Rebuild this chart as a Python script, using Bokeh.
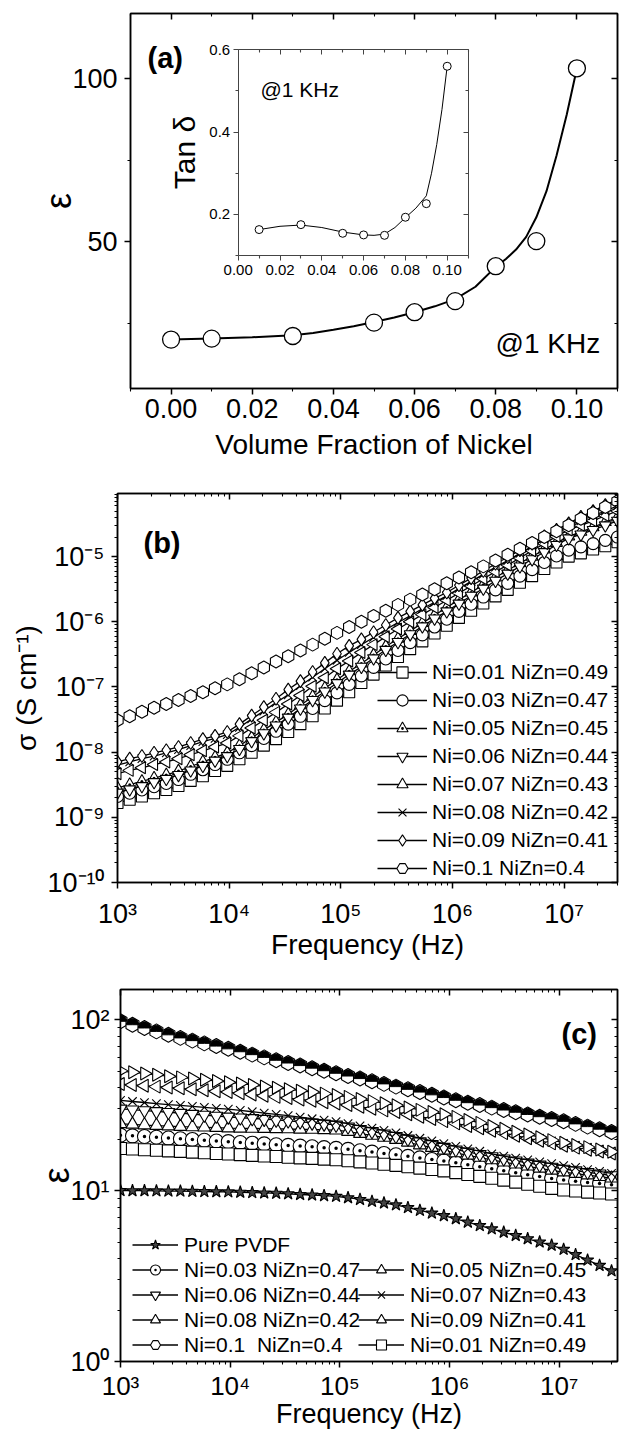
import numpy as np
from bokeh.plotting import figure
from bokeh.layouts import column
from bokeh.models import (Range1d, LinearAxis, FixedTicker, Label, Legend, LegendItem,
                          ColumnDataSource, PrintfTickFormatter, CustomJSTickFormatter)
from bokeh.embed import file_html
from bokeh.resources import INLINE

FONT = "Liberation Sans"

# ---------------- panel (a) data ----------------
vol_fraction = [0.00, 0.01, 0.03, 0.05, 0.06, 0.07, 0.08, 0.09, 0.10]
eps_1khz = [20.0, 20.3, 21.1, 25.2, 28.4, 31.8, 42.5, 50.2, 103.2]
# smooth guide curve
fit_fraction = [0.00, 0.01, 0.02, 0.03, 0.035, 0.04, 0.045, 0.05, 0.055, 0.06, 0.065, 0.07,
                0.075, 0.08, 0.0825, 0.085, 0.0875, 0.09, 0.0925, 0.095, 0.0975, 0.10]
fit_eps = [20.0, 20.3, 20.7, 21.3, 22.0, 23.0, 24.1, 25.4, 26.8, 28.4, 30.2, 32.4,
           36.2, 42.3, 44.7, 47.6, 51.5, 57.5, 65.5, 76.5, 89.0, 103.2]

inset_fraction = [0.01, 0.03, 0.05, 0.06, 0.07, 0.08, 0.09, 0.10]
tan_delta = [0.163, 0.175, 0.154, 0.150, 0.149, 0.193, 0.226, 0.560]
inset_fit_fraction = [0.01, 0.02, 0.03, 0.04, 0.05, 0.06, 0.065, 0.07, 0.075, 0.08, 0.085,
                      0.09, 0.0925, 0.095, 0.0975, 0.10]
inset_fit_tan = [0.163, 0.171, 0.174, 0.168, 0.157, 0.150, 0.149, 0.152, 0.168, 0.192, 0.215,
                 0.245, 0.300, 0.370, 0.455, 0.560]

a_x_ticks = [0.00, 0.02, 0.04, 0.06, 0.08, 0.10]
a_x_minor = [-0.01, 0.01, 0.03, 0.05, 0.07, 0.09, 0.11]
a_y_ticks = [50, 100]
a_y_minor = [25, 75]
inset_x_ticks = [0.00, 0.02, 0.04, 0.06, 0.08, 0.10]
inset_x_minor = [0.01, 0.03, 0.05, 0.07, 0.09, 0.11]
inset_y_ticks = [0.2, 0.4, 0.6]
inset_y_minor = [0.1, 0.3, 0.5]

# ---------------- shared frequency grid (Hz) ----------------
freq_hz = [1000, 1286, 1654, 2126, 2734, 3516, 4521, 5813, 7475, 9612,
           12360, 15890, 20430, 26270, 33780, 43440, 55860, 71830, 92360, 118760,
           152700, 196360, 252500, 324700, 417500, 536800, 690300, 887600, 1141300, 1467500,
           1887000, 2426000, 3120000, 4012000, 5159000, 6634000, 8530000, 10970000, 14100000, 18140000,
           23330000, 30000000]

# ---------------- panel (b): log10 of conductivity (S/cm) ----------------
log_sigma_ni001 = [-8.78, -8.73, -8.68, -8.63, -8.58, -8.52, -8.44, -8.37, -8.29, -8.21,
                   -8.11, -8.01, -7.90, -7.80, -7.69, -7.57, -7.45, -7.33, -7.21, -7.08,
                   -6.94, -6.81, -6.67, -6.54, -6.42, -6.30, -6.18, -6.06, -5.94, -5.83,
                   -5.72, -5.61, -5.51, -5.40, -5.30, -5.19, -5.09, -5.00, -4.95, -4.89,
                   -4.84, -4.78]
log_sigma_ni003 = [-8.68, -8.63, -8.58, -8.53, -8.48, -8.42, -8.34, -8.27, -8.19, -8.11,
                   -8.01, -7.90, -7.79, -7.68, -7.57, -7.45, -7.33, -7.21, -7.09, -6.96,
                   -6.83, -6.70, -6.57, -6.44, -6.32, -6.20, -6.08, -5.96, -5.84, -5.73,
                   -5.62, -5.51, -5.41, -5.30, -5.20, -5.09, -4.99, -4.90, -4.85, -4.80,
                   -4.75, -4.70]
log_sigma_ni005 = [-8.55, -8.50, -8.45, -8.40, -8.35, -8.29, -8.22, -8.15, -8.08, -8.01,
                   -7.90, -7.78, -7.66, -7.54, -7.42, -7.28, -7.15, -7.02, -6.89, -6.76,
                   -6.64, -6.51, -6.38, -6.26, -6.14, -6.02, -5.90, -5.78, -5.66, -5.55,
                   -5.43, -5.32, -5.21, -5.10, -5.00, -4.89, -4.79, -4.69, -4.62, -4.55,
                   -4.47, -4.40]
log_sigma_ni006 = [-8.62, -8.57, -8.52, -8.46, -8.41, -8.35, -8.28, -8.21, -8.13, -8.06,
                   -7.95, -7.83, -7.71, -7.59, -7.47, -7.33, -7.20, -7.07, -6.94, -6.81,
                   -6.69, -6.56, -6.43, -6.31, -6.19, -6.07, -5.95, -5.84, -5.72, -5.60,
                   -5.49, -5.37, -5.26, -5.15, -5.04, -4.93, -4.82, -4.72, -4.66, -4.59,
                   -4.52, -4.45]
log_sigma_ni007 = [-8.33, -8.28, -8.24, -8.19, -8.15, -8.10, -8.04, -7.98, -7.92, -7.86,
                   -7.75, -7.63, -7.51, -7.39, -7.26, -7.13, -6.99, -6.86, -6.72, -6.60,
                   -6.47, -6.35, -6.23, -6.11, -6.00, -5.89, -5.78, -5.67, -5.56, -5.45,
                   -5.34, -5.23, -5.13, -5.02, -4.91, -4.80, -4.69, -4.59, -4.52, -4.45,
                   -4.37, -4.30]
log_sigma_ni008 = [-8.20, -8.15, -8.10, -8.06, -8.01, -7.96, -7.90, -7.84, -7.79, -7.73,
                   -7.62, -7.49, -7.37, -7.24, -7.12, -6.98, -6.85, -6.72, -6.59, -6.47,
                   -6.35, -6.24, -6.12, -6.01, -5.91, -5.80, -5.70, -5.60, -5.49, -5.38,
                   -5.27, -5.16, -5.06, -4.95, -4.84, -4.73, -4.62, -4.52, -4.45, -4.37,
                   -4.30, -4.22]
log_sigma_ni009 = [-8.15, -8.10, -8.06, -8.01, -7.97, -7.92, -7.86, -7.80, -7.75, -7.69,
                   -7.57, -7.44, -7.31, -7.18, -7.04, -6.91, -6.77, -6.63, -6.49, -6.37,
                   -6.27, -6.16, -6.05, -5.94, -5.84, -5.74, -5.64, -5.55, -5.44, -5.33,
                   -5.22, -5.11, -5.01, -4.90, -4.80, -4.69, -4.59, -4.49, -4.39, -4.30,
                   -4.21, -4.12]
log_sigma_ni010 = [-7.51, -7.45, -7.38, -7.32, -7.26, -7.20, -7.14, -7.08, -7.02, -6.96,
                   -6.88, -6.79, -6.70, -6.61, -6.53, -6.44, -6.35, -6.26, -6.17, -6.08,
                   -6.00, -5.91, -5.83, -5.74, -5.66, -5.58, -5.50, -5.41, -5.32, -5.24,
                   -5.15, -5.06, -4.97, -4.88, -4.79, -4.70, -4.61, -4.52, -4.42, -4.33,
                   -4.24, -4.15]

b_labels = ["Ni=0.01 NiZn=0.49", "Ni=0.03 NiZn=0.47", "Ni=0.05 NiZn=0.45", "Ni=0.06 NiZn=0.44",
            "Ni=0.07 NiZn=0.43", "Ni=0.08 NiZn=0.42", "Ni=0.09 NiZn=0.41", "Ni=0.1 NiZn=0.4"]
b_x_ticks = [1e3, 1e4, 1e5, 1e6, 1e7]
b_x_tick_labels = ["10\u00b3", "10\u2074", "10\u2075", "10\u2076", "10\u2077"]
b_y_ticks = [1e-10, 1e-9, 1e-8, 1e-7, 1e-6, 1e-5]
b_y_tick_labels = ["10\u207b\u00b9\u2070", "10\u207b\u2079", "10\u207b\u2078", "10\u207b\u2077",
                   "10\u207b\u2076", "10\u207b\u2075"]

# ---------------- panel (c): log10 of permittivity ----------------
log_eps_pvdf = [1.000, 0.999, 0.999, 0.998, 0.997, 0.997, 0.995, 0.994, 0.993, 0.992,
                0.990, 0.988, 0.986, 0.984, 0.981, 0.977, 0.974, 0.970, 0.966, 0.958,
                0.948, 0.937, 0.927, 0.916, 0.900, 0.884, 0.868, 0.853, 0.835, 0.815,
                0.795, 0.776, 0.756, 0.737, 0.718, 0.699, 0.680, 0.656, 0.625, 0.593,
                0.562, 0.530]
log_eps_ni003 = [1.324, 1.320, 1.316, 1.312, 1.307, 1.303, 1.299, 1.294, 1.290, 1.286,
                 1.281, 1.277, 1.273, 1.268, 1.264, 1.260, 1.256, 1.251, 1.247, 1.241,
                 1.233, 1.225, 1.217, 1.209, 1.200, 1.191, 1.182, 1.173, 1.163, 1.151,
                 1.139, 1.127, 1.116, 1.104, 1.093, 1.082, 1.070, 1.061, 1.054, 1.047,
                 1.041, 1.034]
log_eps_ni005 = [1.390, 1.387, 1.383, 1.380, 1.377, 1.374, 1.372, 1.370, 1.368, 1.365,
                 1.364, 1.363, 1.362, 1.361, 1.360, 1.358, 1.357, 1.355, 1.353, 1.345,
                 1.333, 1.322, 1.310, 1.298, 1.282, 1.266, 1.251, 1.235, 1.220, 1.206,
                 1.193, 1.179, 1.166, 1.154, 1.142, 1.130, 1.118, 1.108, 1.099, 1.090,
                 1.081, 1.072]
log_eps_ni006 = [1.478, 1.473, 1.468, 1.463, 1.458, 1.453, 1.447, 1.442, 1.436, 1.431,
                 1.426, 1.422, 1.418, 1.413, 1.408, 1.402, 1.396, 1.390, 1.384, 1.373,
                 1.359, 1.346, 1.332, 1.318, 1.302, 1.286, 1.270, 1.254, 1.239, 1.226,
                 1.212, 1.199, 1.186, 1.174, 1.162, 1.150, 1.138, 1.126, 1.117, 1.107,
                 1.098, 1.088]
log_eps_ni007 = [1.527, 1.521, 1.515, 1.509, 1.503, 1.498, 1.492, 1.487, 1.481, 1.476,
                 1.469, 1.461, 1.453, 1.446, 1.438, 1.429, 1.420, 1.412, 1.403, 1.391,
                 1.378, 1.365, 1.352, 1.338, 1.322, 1.306, 1.290, 1.274, 1.258, 1.244,
                 1.230, 1.215, 1.201, 1.190, 1.179, 1.168, 1.157, 1.146, 1.135, 1.123,
                 1.112, 1.101]
log_eps_ni008 = [1.623, 1.618, 1.613, 1.608, 1.603, 1.598, 1.592, 1.587, 1.581, 1.576,
                 1.569, 1.562, 1.555, 1.548, 1.541, 1.533, 1.525, 1.517, 1.509, 1.500,
                 1.490, 1.479, 1.469, 1.459, 1.446, 1.432, 1.419, 1.406, 1.393, 1.378,
                 1.364, 1.350, 1.336, 1.321, 1.306, 1.291, 1.276, 1.262, 1.251, 1.239,
                 1.228, 1.217]
log_eps_ni009 = [1.700, 1.692, 1.685, 1.677, 1.669, 1.662, 1.655, 1.648, 1.641, 1.634,
                 1.626, 1.618, 1.609, 1.601, 1.593, 1.584, 1.576, 1.567, 1.559, 1.548,
                 1.535, 1.523, 1.511, 1.499, 1.486, 1.472, 1.459, 1.446, 1.431, 1.413,
                 1.396, 1.378, 1.361, 1.344, 1.328, 1.312, 1.295, 1.280, 1.267, 1.254,
                 1.240, 1.227]
log_eps_ni010 = [1.990, 1.970, 1.951, 1.931, 1.911, 1.893, 1.877, 1.861, 1.845, 1.829,
                 1.812, 1.795, 1.779, 1.762, 1.746, 1.731, 1.716, 1.701, 1.686, 1.670,
                 1.655, 1.639, 1.624, 1.608, 1.592, 1.576, 1.560, 1.544, 1.528, 1.514,
                 1.500, 1.485, 1.471, 1.458, 1.445, 1.432, 1.419, 1.405, 1.390, 1.374,
                 1.359, 1.343]
log_eps_ni001 = [1.246, 1.243, 1.239, 1.236, 1.232, 1.229, 1.225, 1.221, 1.217, 1.214,
                 1.210, 1.206, 1.202, 1.199, 1.195, 1.191, 1.188, 1.184, 1.180, 1.174,
                 1.168, 1.161, 1.154, 1.147, 1.139, 1.131, 1.123, 1.115, 1.105, 1.094,
                 1.083, 1.072, 1.061, 1.049, 1.037, 1.025, 1.013, 1.003, 0.997, 0.991,
                 0.986, 0.980]
c_y_ticks = [1, 10, 100]
c_y_tick_labels = ["10\u2070", "10\u00b9", "10\u00b2"]

# ---------------- helpers ----------------
W = 619


def style_axis(ax, size="27px", tick_out=6, minor_out=3, tick_in=0, minor_in=0,
               standoff=6, show=True, lw=1.5, color="black"):
    ax.axis_line_color = color
    ax.axis_line_width = lw
    ax.major_tick_line_color = color
    ax.major_tick_line_width = lw
    ax.minor_tick_line_color = color
    ax.minor_tick_line_width = 1.1
    ax.major_tick_out = tick_out
    ax.major_tick_in = tick_in
    ax.minor_tick_out = minor_out
    ax.minor_tick_in = minor_in
    ax.major_label_text_font = FONT
    if show:
        ax.major_label_text_color = "black"
        ax.major_label_standoff = standoff
        ax.major_label_text_font_size = size
    else:
        # mirror axis: ticks only, labels not drawn
        ax.major_label_text_color = None
        ax.major_label_standoff = 0
        ax.major_label_text_font_size = "1px"
    ax.axis_label_text_font = FONT
    ax.axis_label_text_font_style = "normal"
    ax.axis_label_text_color = "black"


def base_fig(h, ml, mr, mt, mb, **kw):
    p = figure(width=W, height=h, output_backend="svg", toolbar_location=None,
               min_border_left=ml, min_border_right=mr, min_border_top=mt,
               min_border_bottom=mb, **kw)
    p.frame_align = False
    p.grid.visible = False
    p.outline_line_color = "black"
    p.outline_line_width = 1.5
    p.background_fill_color = "white"
    p.border_fill_color = "white"
    return p


def log_minor(lo_exp, hi_exp):
    return [k * 10.0 ** e for e in range(lo_exp, hi_exp) for k in range(2, 10)]


def lookup_formatter(ticks, labels):
    return CustomJSTickFormatter(args=dict(tv=ticks, tl=labels), code="""
        for (let i = 0; i < tv.length; i++) {
            if (Math.abs(Math.log10(tick) - Math.log10(tv[i])) < 1e-6) { return tl[i]; }
        }
        return "";
    """)


def mirror(p, ticker, side):
    ax = LinearAxis(ticker=ticker)
    style_axis(ax, tick_out=0, minor_out=0, tick_in=6, minor_in=3, show=False)
    p.add_layout(ax, side)


# ================= panel (a) =================
HA = 470
FL, FR, FT, FB = 130, W - 2, 13, 388
pa = base_fig(HA, FL, W - FR, FT, HA - FB,
              x_range=Range1d(-0.01, 0.11), y_range=Range1d(5, 120))
xa = pa.below[0]
ya = pa.left[0]
xa.ticker = FixedTicker(ticks=a_x_ticks, minor_ticks=a_x_minor)
xa.formatter = PrintfTickFormatter(format="%.2f")
ya.ticker = FixedTicker(ticks=a_y_ticks, minor_ticks=a_y_minor)
style_axis(xa, standoff=4)
style_axis(ya, standoff=7)
xa.axis_label = "Volume Fraction of Nickel"
xa.axis_label_text_font_size = "28px"
xa.axis_label_standoff = 8
ya.axis_label = "\u03b5"
ya.axis_label_text_font_size = "36px"
ya.axis_label_standoff = -10
mirror(pa, FixedTicker(ticks=a_x_ticks, minor_ticks=a_x_minor), "above")
mirror(pa, FixedTicker(ticks=a_y_ticks, minor_ticks=a_y_minor), "right")

pa.line(fit_fraction, fit_eps, line_color="black", line_width=2)
pa.scatter(vol_fraction, eps_1khz, marker="circle", size=17, fill_color="white",
           line_color="black", line_width=1.3)

# inset placed inside the main frame via extra ranges
IL, IR, IT, IB = 237.7, 467.6, 49.3, 255.0
sx = 0.11 / (IR - IL)
sy = 0.5 / (IB - IT)
pa.extra_x_ranges = {"ix": Range1d(0.0 - (IL - FL) * sx, 0.11 + (FR - IR) * sx)}
pa.extra_y_ranges = {"iy": Range1d(0.1 - (FB - IB) * sy, 0.6 + (IT - FT) * sy)}

ib = LinearAxis(x_range_name="ix", y_range_name="iy", fixed_location=0.1, bounds=(0, 0.11),
                ticker=FixedTicker(ticks=inset_x_ticks, minor_ticks=inset_x_minor),
                formatter=PrintfTickFormatter(format="%.2f"))
style_axis(ib, size="15px", tick_out=5, minor_out=3, standoff=4, lw=1, color="#444")
pa.add_layout(ib, "below")
il = LinearAxis(x_range_name="ix", y_range_name="iy", fixed_location=0.0, bounds=(0.1, 0.6),
                ticker=FixedTicker(ticks=inset_y_ticks, minor_ticks=inset_y_minor),
                formatter=PrintfTickFormatter(format="%.1f"))
style_axis(il, size="15px", tick_out=5, minor_out=3, standoff=3, lw=1, color="#444")
il.axis_label = "Tan \u03b4"
il.axis_label_text_font_size = "30px"
il.axis_label_standoff = 6
pa.add_layout(il, "left")
it = LinearAxis(x_range_name="ix", y_range_name="iy", fixed_location=0.6, bounds=(0, 0.11),
                ticker=FixedTicker(ticks=inset_x_ticks, minor_ticks=inset_x_minor))
style_axis(it, tick_out=0, minor_out=0, tick_in=5, minor_in=3, show=False, lw=1, color="#444")
pa.add_layout(it, "above")
ir = LinearAxis(x_range_name="ix", y_range_name="iy", fixed_location=0.11, bounds=(0.1, 0.6),
                ticker=FixedTicker(ticks=inset_y_ticks, minor_ticks=inset_y_minor))
style_axis(ir, tick_out=0, minor_out=0, tick_in=5, minor_in=3, show=False, lw=1, color="#444")
pa.add_layout(ir, "right")

pa.line(inset_fit_fraction, inset_fit_tan, x_range_name="ix", y_range_name="iy",
        line_color="black", line_width=1)
pa.scatter(inset_fraction, tan_delta, x_range_name="ix", y_range_name="iy", marker="circle",
           size=8, fill_color="white", line_color="black", line_width=1)

pa.add_layout(Label(x=17, y=331, x_units="screen", y_units="screen", text="(a)",
                    text_font=FONT, text_font_size="29px", text_font_style="bold",
                    text_baseline="middle", text_color="black"))
pa.add_layout(Label(x=365, y=45, x_units="screen", y_units="screen", text="@1 KHz",
                    text_font=FONT, text_font_size="28px", text_baseline="middle",
                    text_color="black"))
pa.add_layout(Label(x=130, y=299, x_units="screen", y_units="screen", text="@1 KHz",
                    text_font=FONT, text_font_size="21px", text_baseline="middle",
                    text_color="black"))

# ================= panel (b) =================
HB = 495
pb = base_fig(HB, 117, 2, 23, 83, x_axis_type="log", y_axis_type="log",
              x_range=Range1d(1e3, 3e7), y_range=Range1d(1e-10, 9.3e-5))
xb = pb.below[0]
yb = pb.left[0]
xb.ticker = FixedTicker(ticks=b_x_ticks, minor_ticks=log_minor(3, 8))
xb.formatter = lookup_formatter(b_x_ticks, b_x_tick_labels)
yb.ticker = FixedTicker(ticks=b_y_ticks, minor_ticks=log_minor(-10, -4))
yb.formatter = lookup_formatter(b_y_ticks, b_y_tick_labels)
style_axis(xb, standoff=10)
style_axis(yb, standoff=7)
xb.axis_label = "Frequency (Hz)"
xb.axis_label_text_font_size = "28px"
xb.axis_label_standoff = -3
yb.axis_label = "\u03c3 (S cm\u207b\u00b9)"
yb.axis_label_text_font_size = "28px"
yb.axis_label_standoff = 2
mirror(pb, FixedTicker(ticks=b_x_ticks, minor_ticks=log_minor(3, 8)), "above")
mirror(pb, FixedTicker(ticks=b_y_ticks, minor_ticks=log_minor(-10, -4)), "right")

b_series = [log_sigma_ni001, log_sigma_ni003, log_sigma_ni005, log_sigma_ni006,
            log_sigma_ni007, log_sigma_ni008, log_sigma_ni009, log_sigma_ni010]
b_markers = [("square", 11, 0), ("circle", 12, 0), ("triangle_dot", 12, 0),
             ("inverted_triangle", 12, 0), ("triangle", 12, np.pi / 2), ("x", 12, 0),
             ("diamond", 13, 0), ("hex", 13, np.pi / 6)]
items_b = []
for lab, ser, (mk, sz, ang) in zip(b_labels, b_series, b_markers):
    src = ColumnDataSource(dict(x=freq_hz, y=[10.0 ** v for v in ser]))
    r_line = pb.line("x", "y", source=src, line_color="black", line_width=1.3)
    r_mk = pb.scatter("x", "y", source=src, marker=mk, size=sz, angle=ang,
                      fill_color="white", line_color="black", line_width=1.1)
    items_b.append(LegendItem(label=lab, renderers=[r_line, r_mk]))
leg_b = Legend(items=items_b, location=(260, 0), glyph_width=50, glyph_height=28,
               label_standoff=5, spacing=0, padding=0, margin=0,
               border_line_alpha=0, background_fill_alpha=0,
               label_text_font=FONT, label_text_font_size="21px",
               label_text_color="black")
pb.add_layout(leg_b)
pb.add_layout(Label(x=26, y=340, x_units="screen", y_units="screen", text="(b)",
                    text_font=FONT, text_font_size="29px", text_font_style="bold",
                    text_baseline="middle", text_color="black"))

# ================= panel (c) =================
HC = 1431 - HA - HB
pc = base_fig(HC, 120, 2, 24, 67, x_axis_type="log", y_axis_type="log",
              x_range=Range1d(1e3, 3.4e7), y_range=Range1d(1, 150))
xc = pc.below[0]
yc = pc.left[0]
xc.ticker = FixedTicker(ticks=b_x_ticks, minor_ticks=log_minor(3, 8))
xc.formatter = lookup_formatter(b_x_ticks, b_x_tick_labels)
yc.ticker = FixedTicker(ticks=c_y_ticks, minor_ticks=log_minor(0, 3))
yc.formatter = lookup_formatter(c_y_ticks, c_y_tick_labels)
style_axis(xc, size="26px", standoff=3)
style_axis(yc, standoff=5)
xc.axis_label = "Frequency (Hz)"
xc.axis_label_text_font_size = "27px"
xc.axis_label_standoff = -5
yc.axis_label = "\u03b5"
yc.axis_label_text_font_size = "36px"
yc.axis_label_standoff = -10
mirror(pc, FixedTicker(ticks=b_x_ticks, minor_ticks=log_minor(3, 8)), "above")
mirror(pc, FixedTicker(ticks=c_y_ticks, minor_ticks=log_minor(0, 3)), "right")


def c_series(ser, mk, sz, ang=0.0, fill="white"):
    src = ColumnDataSource(dict(x=freq_hz, y=[10.0 ** v for v in ser]))
    r_line = pc.line("x", "y", source=src, line_color="black", line_width=1.3)
    r_mk = pc.scatter("x", "y", source=src, marker=mk, size=sz, angle=ang,
                      fill_color=fill, line_color="black", line_width=1.1)
    return [r_line, r_mk]


r_pvdf = c_series(log_eps_pvdf, "star", 13, fill="#444444")
r_003 = c_series(log_eps_ni003, "circle_dot", 14)
r_005 = c_series(log_eps_ni005, "triangle", 13)
r_006 = c_series(log_eps_ni006, "inverted_triangle", 13)
r_007 = c_series(log_eps_ni007, "x", 12)
r_008 = c_series(log_eps_ni008, "triangle", 13, ang=np.pi / 2)
r_009 = c_series(log_eps_ni009, "triangle", 13, ang=-np.pi / 2)
r_010 = c_series(log_eps_ni010, "hex", 15, ang=np.pi / 6)
src_half = ColumnDataSource(dict(x=freq_hz, y=[10.0 ** v for v in log_eps_ni010]))
pc.wedge("x", "y", source=src_half, radius=6.2, radius_units="screen",
         start_angle=0, end_angle=np.pi, fill_color="black", line_color="black")
r_001 = c_series(log_eps_ni001, "square", 12)

leg_kw = dict(glyph_width=46, glyph_height=25, label_standoff=6, spacing=0, padding=0,
              margin=0, border_line_alpha=0, background_fill_alpha=0,
              label_text_font=FONT, label_text_font_size="21px", label_text_color="black")
leg_c1 = Legend(items=[LegendItem(label="Pure PVDF", renderers=r_pvdf),
                       LegendItem(label="Ni=0.03 NiZn=0.47", renderers=r_003),
                       LegendItem(label="Ni=0.06 NiZn=0.44", renderers=r_006),
                       LegendItem(label="Ni=0.08 NiZn=0.42", renderers=r_008),
                       LegendItem(label="Ni=0.1  NiZn=0.4", renderers=r_010)],
                location=(12, 4), **leg_kw)
leg_c2 = Legend(items=[LegendItem(label="Ni=0.05 NiZn=0.45", renderers=r_005),
                       LegendItem(label="Ni=0.07 NiZn=0.43", renderers=r_007),
                       LegendItem(label="Ni=0.09 NiZn=0.41", renderers=r_009),
                       LegendItem(label="Ni=0.01 NiZn=0.49", renderers=r_001)],
                location=(238, 4), **leg_kw)
pc.add_layout(leg_c1)
pc.add_layout(leg_c2)
pc.add_layout(Label(x=441, y=328, x_units="screen", y_units="screen", text="(c)",
                    text_font=FONT, text_font_size="29px", text_font_style="bold",
                    text_baseline="middle", text_color="black"))

layout = column(pa, pb, pc, spacing=0)
open("out.html", "w").write(file_html(layout, INLINE))
